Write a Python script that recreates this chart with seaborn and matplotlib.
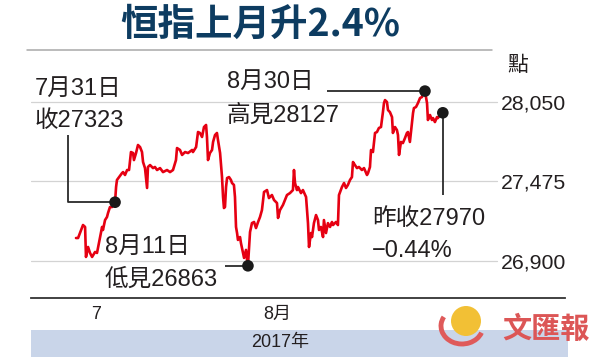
import numpy as np
import pandas as pd
import matplotlib
matplotlib.use("Agg")
import matplotlib.pyplot as plt
import seaborn as sns
from matplotlib.lines import Line2D
from matplotlib.patches import Rectangle, Ellipse, Arc

# ---------------- data (trading days relative to the 31 Jul close) ----------------
days = [
    -2.62, -2.48, -2.15, -2.01, -1.95, -1.81, -1.68, -1.54, -1.34, -1.21,
    -1.07, -0.87, -0.81, -0.67, -0.54, -0.47, -0.34, -0.20, -0.13, 0.00,
    0.07, 0.13, 0.27, 0.47, 0.54, 0.67, 0.81, 0.94, 1.07, 1.21,
    1.27, 1.41, 1.54, 1.68, 1.81, 1.88, 2.01, 2.15, 2.21, 2.35,
    2.55, 2.68, 2.82, 3.02, 3.22, 3.49, 3.69, 3.89, 4.09, 4.16,
    4.36, 4.50, 4.70, 4.90, 5.17, 5.23, 5.44, 5.57, 5.70, 5.84,
    5.97, 6.11, 6.17, 6.24, 6.37, 6.51, 6.58, 6.71, 6.84, 6.91,
    7.05, 7.18, 7.25, 7.31, 7.38, 7.45, 7.52, 7.65, 7.78, 7.85,
    7.98, 8.05, 8.12, 8.19, 8.25, 8.39, 8.45, 8.59, 8.66, 8.79,
    8.86, 8.92, 9.06, 9.19, 9.33, 9.46, 9.60, 9.73, 9.86, 10.00,
    10.20, 10.33, 10.53, 10.67, 10.87, 10.94, 11.07, 11.27, 11.54, 11.74,
    11.94, 12.01, 12.08, 12.21, 12.28, 12.48, 12.61, 12.82, 12.95, 13.02,
    13.15, 13.22, 13.35, 13.49, 13.62, 13.69, 13.82, 13.96, 14.02, 14.16,
    14.29, 14.43, 14.56, 14.63, 14.83, 14.96, 15.03, 15.23, 15.37, 15.50,
    15.63, 15.77, 15.90, 15.97, 16.10, 16.24, 16.37, 16.57, 16.71, 16.91,
    16.98, 17.11, 17.18, 17.31, 17.45, 17.58, 17.71, 17.85, 17.98, 18.05,
    18.12, 18.25, 18.32, 18.45, 18.59, 18.65, 18.79, 18.92, 18.99, 19.06,
    19.19, 19.32, 19.46, 19.59, 19.66, 19.79, 19.93, 20.00, 20.06, 20.20,
    20.33, 20.47, 20.60, 20.67, 20.80, 20.94, 21.00, 21.14, 21.27, 21.34,
    21.47, 21.61, 21.67, 21.81, 22.00,
]
levels = [
    27064, 27064, 27158, 27144, 26927, 26999, 26956, 26927, 26963, 26956,
    27035, 27144, 27122, 27194, 27216, 27245, 27288, 27288, 27339, 27323,
    27433, 27484, 27505, 27534, 27541, 27520, 27556, 27556, 27686, 27679,
    27628, 27679, 27737, 27722, 27686, 27614, 27570, 27426, 27578, 27592,
    27570, 27578, 27556, 27570, 27541, 27556, 27541, 27556, 27628, 27715,
    27701, 27665, 27686, 27679, 27701, 27686, 27722, 27831, 27824, 27795,
    27867, 27882, 27795, 27628, 27679, 27701, 27759, 27809, 27824, 27773,
    27679, 27505, 27361, 27281, 27288, 27433, 27498, 27505, 27484, 27462,
    27448, 27361, 27144, 27100, 27050, 27071, 27028, 26956, 26920, 26978,
    26905, 26863, 27107, 27172, 27180, 27136, 27180, 27216, 27266, 27397,
    27411, 27353, 27375, 27339, 27317, 27209, 27266, 27303, 27375, 27389,
    27411, 27556, 27462, 27411, 27433, 27389, 27411, 27361, 27172, 26999,
    27100, 27071, 27172, 27230, 27194, 27122, 27144, 27071, 27194, 27100,
    27172, 27144, 27180, 27158, 27180, 27158, 27375, 27433, 27462, 27426,
    27448, 27484, 27505, 27614, 27592, 27570, 27578, 27556, 27570, 27520,
    27534, 27578, 27701, 27686, 27824, 27831, 27860, 27867, 27975, 28040,
    28062, 28048, 27990, 27975, 27939, 27824, 27867, 27845, 27809, 27665,
    27759, 27751, 27787, 27824, 27831, 27759, 27896, 27968, 28004, 28012,
    28040, 28077, 28084, 28113, 28127, 28040, 27918, 27954, 27918, 27932,
    27903, 27939, 27932, 27954, 27970,
]

y_ticks = [26900, 27475, 28050]
y_tick_labels = ["26,900", "27,475", "28,050"]
month_end_ticks = [0, 22]            # 31 Jul, 31 Aug
month_label_pos = [-1.27, 10.87]
month_labels = ["7", "8月"]

title = "恒指上月升2.4%"
unit = "點"
year_label = "2017年"
note_jul31 = ["7月31日", "收27323"]
note_high = ["8月30日", "高見28127"]
note_low = ["8月11日", "低見26863"]
note_last = ["昨收27970", "−0.44%"]

df = pd.DataFrame({"day": days, "level": levels})

# ---------------- style ----------------
sns.set_style("white")
plt.rcParams["font.family"] = ["Liberation Sans", "Noto Sans CJK TC"]
TXT = "#231f20"
W, H = 600, 357

fig = plt.figure(figsize=(6, 3.57), dpi=100)
ax = fig.add_axes([31 / W, 1 - 298 / H, 534 / W, 238 / H])

sns.lineplot(data=df, x="day", y="level", ax=ax, color="#e60012", lw=1.9,
             sort=False, estimator=None, zorder=3)
ax.set_xlim(-5.64, 30.2)
ax.set_ylim(26630, 28352)
ax.set_xlabel("")
ax.set_ylabel("")

# grid lines stopping before tick labels
for v in y_ticks:
    ax.axhline(v, xmin=0, xmax=(497 - 31) / 534, color="#d3d3d3", lw=0.9, zorder=0)

# y tick labels inside on the right
ax.set_yticks(y_ticks, labels=y_tick_labels)
ax.yaxis.tick_right()
ax.tick_params(axis="y", length=0, pad=-46, labelsize=15.3, labelcolor=TXT)

# x ticks
ax.set_xticks(month_end_ticks, labels=["", ""])
ax.set_xticks(month_label_pos, labels=month_labels, minor=True)
ax.tick_params(axis="x", which="major", direction="in", length=6, width=1, color="#333333")
ax.tick_params(axis="x", which="minor", length=0, pad=6, labelsize=13, labelcolor=TXT)

for s in ["left", "top", "right"]:
    ax.spines[s].set_visible(False)
ax.spines["bottom"].set_color("#333333")
ax.spines["bottom"].set_linewidth(1.3)

# key points
arr_d = np.array(days)
arr_v = np.array(levels)
i0 = int(np.argmin(np.abs(arr_d - 0)))
ilo = int(np.argmin(arr_v))
ihi = int(np.argmax(arr_v))
ila = len(arr_v) - 1
pts = pd.DataFrame({"day": arr_d[[i0, ilo, ihi, ila]], "level": arr_v[[i0, ilo, ihi, ila]]})
sns.scatterplot(data=pts, x="day", y="level", ax=ax, s=70, color="#1a1a1a",
                edgecolor="none", zorder=5, legend=False)
ax.set_xlabel("")
ax.set_ylabel("")

inv = ax.transData.inverted()
def pix(px, py):
    return inv.transform((px, H - py))

lc = dict(color="#2a2a2a", lw=1.3, zorder=4, solid_capstyle="butt")
cx = pix(68, 0)[0]
ax.plot([cx, cx, arr_d[i0]], [pix(0, 135)[1], arr_v[i0], arr_v[i0]], **lc)
ax.plot([pix(327, 0)[0], arr_d[ihi]], [arr_v[ihi], arr_v[ihi]], **lc)
ax.plot([pix(225, 0)[0], arr_d[ilo]], [arr_v[ilo], arr_v[ilo]], **lc)
ax.plot([arr_d[ila], arr_d[ila]], [arr_v[ila], pix(0, 195)[1]], **lc)

def ftext(px, py, s, **kw):
    fig.text(px / W, 1 - py / H, s, **kw)

ann = dict(ha="left", va="baseline", fontsize=17, color=TXT)
ftext(35, 95, note_jul31[0], **ann)
ftext(35, 127, note_jul31[1], **ann)
ftext(227, 88, note_high[0], **ann)
ftext(227, 122, note_high[1], **ann)
ftext(105, 253, note_low[0], **ann)
ftext(105, 286, note_low[1], **ann)
ftext(372, 225, note_last[0], **ann)
ftext(372, 257, note_last[1], **ann)

# title & header line
ftext(260, 24, title, ha="center", va="center", fontsize=27, weight="heavy",
      color="#0d3c61", family=["Noto Sans CJK TC"])
fig.add_artist(Line2D([27 / W, 492 / W], [1 - 50 / H] * 2, color="#a8a8a8", lw=1.1))
ftext(518, 65, unit, ha="center", va="center", fontsize=15, color=TXT,
      family=["Noto Sans CJK TC"])

# year band
fig.add_artist(Rectangle((31 / W, 0), (568 - 31) / W, 27 / H, transform=fig.transFigure,
                         facecolor="#c9d5e9", edgecolor="none", zorder=0))
ftext(280, 343, year_label, ha="center", va="center", fontsize=13, color=TXT)

# logo
fig.add_artist(Ellipse((466 / W, 1 - 321 / H), 30 / W, 30 / H, transform=fig.transFigure,
                       facecolor="#f2c035", edgecolor="none", zorder=2))
fig.add_artist(Arc((462 / W, 1 - 326 / H), 42 / W, 36 / H, theta1=140, theta2=330,
                   transform=fig.transFigure, color="#df5a5a", lw=3.5, zorder=3))
ftext(546, 329, "文匯報", ha="center", va="center", fontsize=21, weight="heavy",
      color="#dc5656", family=["Noto Sans CJK TC"])

fig.savefig("out.png", dpi=100)
